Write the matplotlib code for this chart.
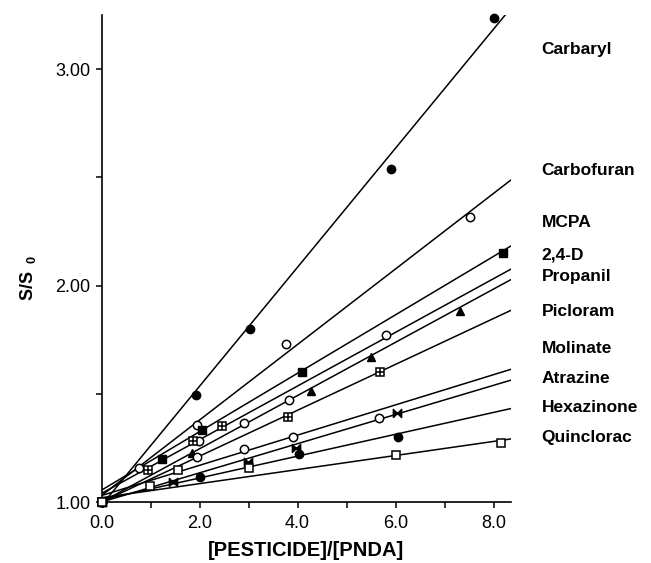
import numpy as np
from matplotlib import pyplot as plt
from matplotlib.ticker import MultipleLocator, FormatStrFormatter

plt.rcParams['font.family'] = ['Liberation Sans', 'DejaVu Sans']
plt.rcParams['mathtext.fontset'] = 'custom'
plt.rcParams['mathtext.rm'] = 'Liberation Sans'
plt.rcParams['mathtext.bf'] = 'Liberation Sans:bold'

# nama pestisida (urutan dari atas)
names = ['Carbaryl', 'Carbofuran', 'MCPA', '2,4-D', 'Propanil',
         'Picloram', 'Molinate', 'Atrazine', 'Hexazinone', 'Quinclorac']

# titik data
carbaryl_x = [0, 1.93, 3.03, 5.9, 8.0]
carbaryl_y = [1.0, 1.495, 1.80, 2.54, 3.235]
carbofuran_x = [0, 0.77, 1.94, 3.77, 7.52]
carbofuran_y = [1.0, 1.155, 1.356, 1.73, 2.315]
mcpa_x = [0, 1.24, 2.04, 4.1, 8.2]
mcpa_y = [1.0, 1.20, 1.333, 1.60, 2.15]
d24_x = [0, 1.99, 2.9, 3.83, 5.8]
d24_y = [1.0, 1.28, 1.367, 1.47, 1.77]
propanil_x = [0, 1.84, 4.27, 5.49, 7.31]
propanil_y = [1.0, 1.225, 1.515, 1.67, 1.884]
picloram_x = [0, 0.95, 1.87, 2.45, 3.81, 5.68]
picloram_y = [1.0, 1.148, 1.28, 1.352, 1.395, 1.60]
molinate_x = [0, 1.94, 2.9, 3.91, 5.66]
molinate_y = [1.0, 1.207, 1.244, 1.30, 1.39]
atrazine_x = [0, 1.46, 2.99, 3.97, 6.03]
atrazine_y = [1.0, 1.094, 1.187, 1.25, 1.413]
hexazinone_x = [0, 2.0, 4.03, 6.05]
hexazinone_y = [1.0, 1.114, 1.222, 1.30]
quinclorac_x = [0, 0.99, 1.56, 3.0, 6.0, 8.15]
quinclorac_y = [1.0, 1.075, 1.148, 1.156, 1.215, 1.273]

# garis regresi (intersep, kemiringan)
intercepts = [0.985, 1.03, 1.055, 1.04, 1.00, 1.00, 1.03, 1.00, 1.01, 1.02]
slopes = [0.275, 0.1745, 0.135, 0.124, 0.123, 0.106, 0.0698, 0.0674, 0.0505, 0.0325]

# posisi label kanan (nilai y)
label_y = [3.09, 2.53, 2.29, 2.14, 2.04, 1.88, 1.71, 1.57, 1.435, 1.30]

bowtie = [(-1, -1), (1, 1), (1, -1), (-1, 1), (-1, -1)]

fig = plt.figure(figsize=(6.51, 5.63), dpi=100)
ax = fig.add_axes([0.156, 0.1083, 0.6285, 0.865])

xs = np.array([0, 8.35])
for b, m in zip(intercepts, slopes):
    ax.plot(xs, b + m * xs, color='black', lw=1.1)

ms = 6
kw = dict(linestyle='none', color='black', clip_on=False, zorder=3)
ax.plot(carbaryl_x, carbaryl_y, marker='o', ms=ms, **kw)
ax.plot(carbofuran_x, carbofuran_y, marker='o', ms=ms, mfc='white', mew=1.1, **kw)
ax.plot(mcpa_x, mcpa_y, marker='s', ms=ms, **kw)
ax.plot(d24_x, d24_y, marker='o', ms=ms, mfc='white', mew=1.1, **kw)
ax.plot(propanil_x, propanil_y, marker='^', ms=ms, **kw)
ax.plot(picloram_x, picloram_y, marker='s', ms=ms, mfc='white', mew=1.1, **kw)
ax.plot(picloram_x, picloram_y, marker='+', ms=ms, mew=1.1, **kw)
ax.plot(molinate_x, molinate_y, marker='o', ms=ms, mfc='white', mew=1.1, **kw)
ax.plot(atrazine_x, atrazine_y, marker=bowtie, ms=ms, **kw)
ax.plot(hexazinone_x, hexazinone_y, marker='o', ms=ms, **kw)
ax.plot(quinclorac_x, quinclorac_y, marker='s', ms=ms, mfc='white', mew=1.1, **kw)

ax.set_xlim(0, 8.35)
ax.set_ylim(1.0, 3.25)
ax.spines['top'].set_visible(False)
ax.spines['right'].set_visible(False)
ax.spines['left'].set_linewidth(1.2)
ax.spines['bottom'].set_linewidth(1.2)

ax.xaxis.set_major_locator(MultipleLocator(2))
ax.xaxis.set_minor_locator(MultipleLocator(1))
ax.yaxis.set_major_locator(MultipleLocator(1))
ax.yaxis.set_minor_locator(MultipleLocator(0.5))
ax.xaxis.set_major_formatter(FormatStrFormatter('%.1f'))
ax.yaxis.set_major_formatter(FormatStrFormatter('%.2f'))
ax.tick_params(which='both', direction='out', length=4, width=1.1, labelsize=13)
ax.tick_params(axis='y', pad=4)
ax.tick_params(axis='x', pad=5)

ax.set_xlabel('[PESTICIDE]/[PNDA]', fontsize=14.5, fontweight='bold', labelpad=7)
ax.set_ylabel(r'$\mathbf{S/S_{\ \ 0}}$', fontsize=13)
ax.yaxis.set_label_coords(-0.155, 0.46)

for name, ly in zip(names, label_y):
    ax.text(1.075, ly, name, transform=ax.get_yaxis_transform(),
            fontsize=12.5, fontweight='bold', va='center', ha='left')

fig.savefig('out.png', dpi=100)
